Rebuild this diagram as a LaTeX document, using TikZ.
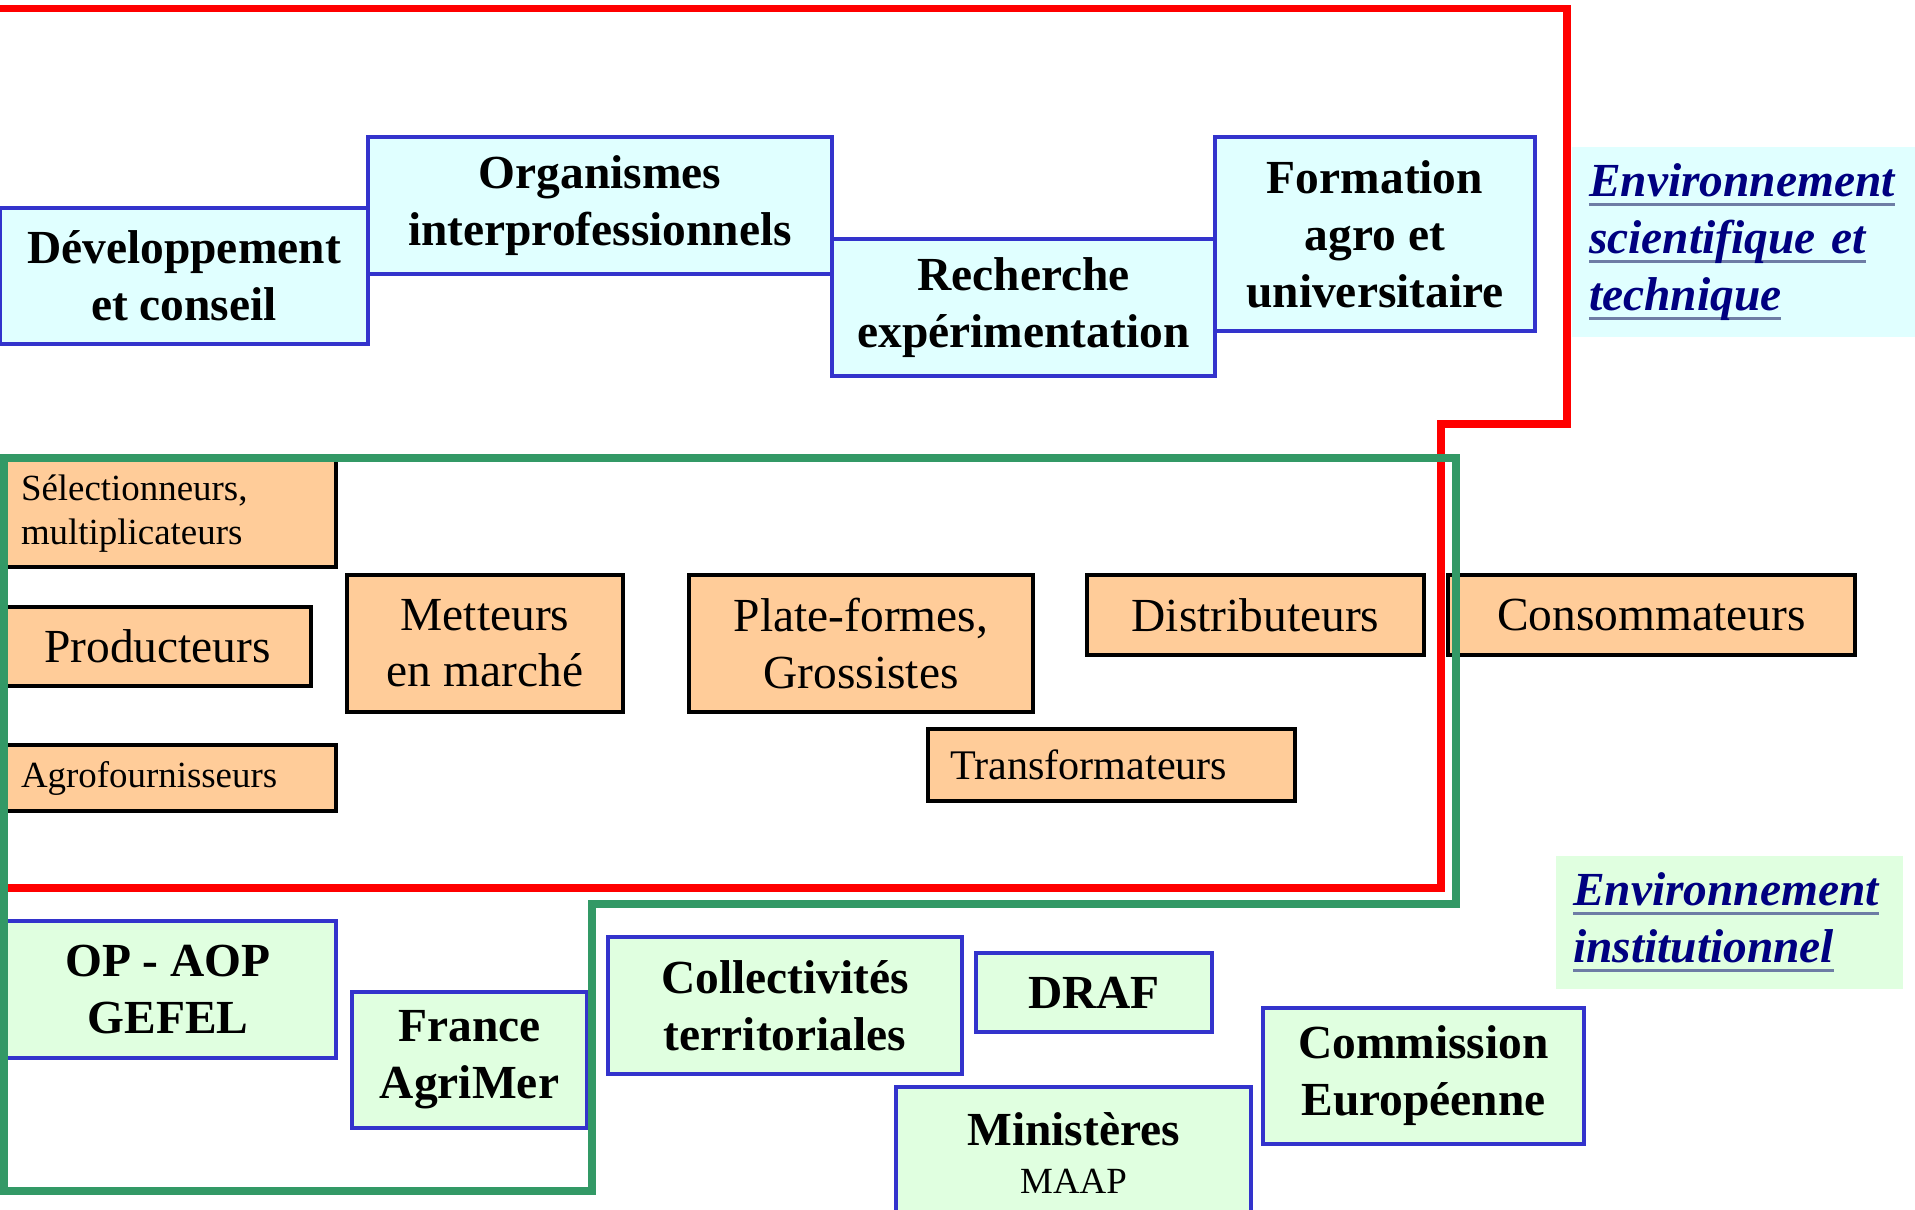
\documentclass[tikz,border=0pt]{standalone}
\usepackage{fontspec}
\setmainfont{Liberation Serif}

\definecolor{boxblue}{RGB}{51,51,204}
\definecolor{scicyan}{RGB}{224,255,255}
\definecolor{instgreen}{RGB}{224,255,224}
\definecolor{chainorange}{RGB}{255,204,153}
\definecolor{framegreen}{RGB}{51,153,102}
\definecolor{navy}{RGB}{0,0,128}
\definecolor{ulgray}{RGB}{110,125,165}

\newlength\envulwd
\newcommand\envul[1]{\leavevmode\settowidth\envulwd{#1}\rlap{\color{ulgray}\rule[-2.8pt]{\envulwd}{1pt}}#1}

\begin{document}
\begin{tikzpicture}[
  sci/.style={draw=boxblue, line width=1pt, fill=scicyan, align=center, inner sep=0pt,
    font=\bfseries\fontsize{13.5}{16.2}\selectfont},
  inst/.style={sci, fill=instgreen},
  chain/.style={draw=black, line width=0.9pt, fill=chainorange, align=center, inner sep=0pt,
    font=\fontsize{13.5}{16}\selectfont},
  chainsmall/.style={chain, align=left, inner xsep=0.17cm, font=\fontsize{10.5}{12.6}\selectfont},
  envlabel/.style={align=left, text=navy, inner xsep=0.17cm,
    font=\bfseries\itshape\fontsize{13.5}{16.2}\selectfont},
  frame/.style={line width=2.2pt}
]
\useasboundingbox (0,0) rectangle (19.15,-12.09);

% environnement scientifique et technique
\node[sci, minimum width=3.68cm, minimum height=1.36cm] (dev) at (1.84,-2.76) {Développement\\et conseil};
\node[sci, minimum width=4.64cm, minimum height=1.37cm] (org) at (6.00,-2.055) {Organismes\\interprofessionnels};
\node[sci, minimum width=3.83cm, minimum height=1.37cm] (rech) at (10.235,-3.075) {Recherche\\expérimentation};
\node[sci, minimum width=3.20cm, minimum height=1.94cm] (form) at (13.75,-2.34) {Formation\\agro et\\universitaire};
\node[envlabel, fill=scicyan, text width=3.1cm, minimum height=1.90cm] (envsci) at (17.44,-2.42)
  {\envul{Environnement}\\\envul{scientifique et}\\\envul{technique}};

% filiere
\node[chainsmall, text width=2.98cm, minimum height=1.07cm] (sel) at (1.70,-5.135) {Sélectionneurs,\\multiplicateurs};
\node[chain, minimum width=3.07cm, minimum height=0.79cm] (prod) at (1.575,-6.465) {Producteurs};
\node[chain, minimum width=2.76cm, minimum height=1.37cm] (mett) at (4.85,-6.435) {Metteurs\\en marché};
\node[chain, minimum width=3.44cm, minimum height=1.37cm] (plat) at (8.61,-6.435) {Plate-formes,\\Grossistes};
\node[chain, minimum width=3.37cm, minimum height=0.80cm] (dist) at (12.555,-6.15) {Distributeurs};
\node[chain, minimum width=4.07cm, minimum height=0.80cm] (cons) at (16.515,-6.15) {Consommateurs};
\node[chainsmall, text width=2.98cm, minimum height=0.66cm] (agro) at (1.70,-7.78) {Agrofournisseurs};
\node[chainsmall, inner xsep=0.22cm, text width=3.23cm, minimum height=0.72cm,
  font=\fontsize{12}{14.4}\selectfont] (trans) at (11.115,-7.65) {Transformateurs};

% environnement institutionnel
\node[inst, minimum width=3.36cm, minimum height=1.37cm] (op) at (1.68,-9.895) {OP - AOP\\GEFEL};
\node[inst, minimum width=2.35cm, minimum height=1.36cm] (fam) at (4.695,-10.6) {France\\AgriMer};
\node[inst, minimum width=3.54cm, minimum height=1.37cm] (coll) at (7.85,-10.055) {Collectivités\\territoriales};
\node[inst, minimum width=2.36cm, minimum height=0.79cm] (draf) at (10.94,-9.925) {DRAF};
\node[inst, minimum width=3.55cm, minimum height=1.32cm] (min) at (10.735,-11.53)
  {Ministères\\[-2.5pt]{\mdseries\fontsize{10.5}{12.6}\selectfont MAAP}};
\node[inst, minimum width=3.21cm, minimum height=1.36cm] (ce) at (14.235,-10.76) {Commission\\Européenne};
\node[envlabel, fill=instgreen, text width=3.13cm, minimum height=1.33cm] (envinst) at (17.295,-9.225)
  {\envul{Environnement}\\\envul{institutionnel}};

% cadres
\draw[frame, red] (0,-0.085) -| (15.67,-4.24) -| (14.41,-8.88) -- (0,-8.88);
\draw[frame, framegreen] (0.04,-4.58) -| (14.56,-9.04) -| (5.92,-11.91) -- (0.04,-11.91) -- cycle;
\end{tikzpicture}
\end{document}
